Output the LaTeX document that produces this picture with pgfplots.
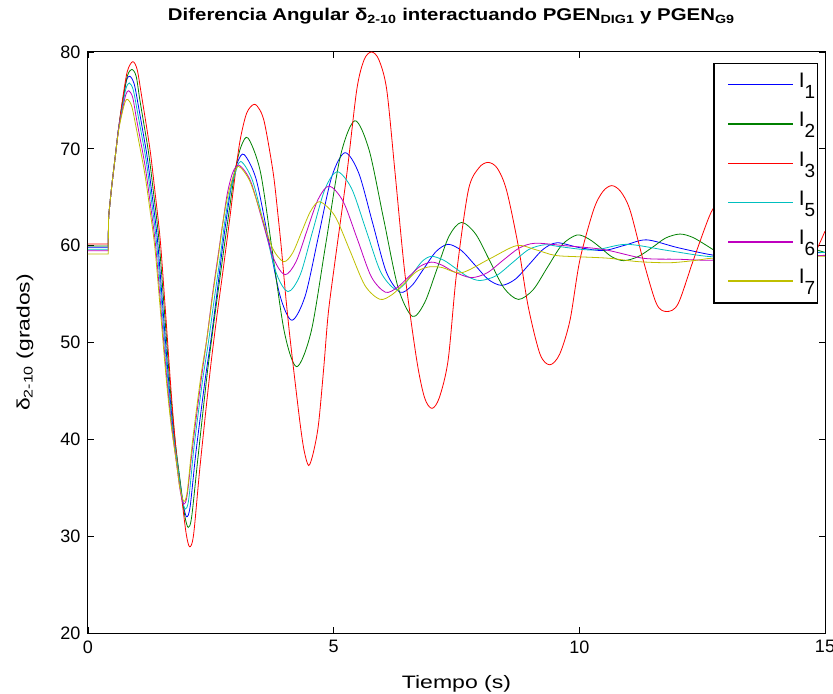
\documentclass[border=0pt]{standalone}
\usepackage{graphicx}
\usepackage{pgfplots}
\pgfplotsset{compat=1.18}
\usepackage{fontspec}
\setmainfont{Liberation Sans}
\definecolor{mblue}{rgb}{0,0,1}
\definecolor{mgreen}{rgb}{0,0.5,0}
\definecolor{mred}{rgb}{1,0,0}
\definecolor{mcyan}{rgb}{0,0.75,0.75}
\definecolor{mmag}{rgb}{0.75,0,0.75}
\definecolor{myel}{rgb}{0.75,0.75,0}
\newcommand{\lent}[1]{I\raisebox{-11bp}{\fontsize{19bp}{20bp}\selectfont #1}\hspace*{2bp}}
\pgfplotsset{
  limg/.style={legend image code/.code={\path (-14bp,0bp) (70bp,0bp); \draw[draw=#1, line width=1.4bp] (0bp,0.4bp) -- (65bp,0.4bp);}},
}
\begin{document}
\begin{tikzpicture}
\useasboundingbox (-88bp,-61bp) rectangle (745bp,633bp);
\begin{axis}[
  at={(0,0)}, anchor=south west,
  scale only axis, width=737bp, height=581bp,
  xmin=0, xmax=15, ymin=20, ymax=80,
  xtick={0,5,10,15}, ytick={20,30,40,50,60,70,80},
  tick align=inside, xtick pos=both, ytick pos=both,
  major tick length=6bp,
  tick style={black, line width=0.8bp},
  axis line style={black, line width=1bp},
  /pgf/number format/assume math mode=true,
  every tick label/.append style={font=\fontsize{18bp}{20bp}\selectfont},
  yticklabel style={xshift=-4bp},
  xticklabel style={yshift=-4bp},
  title={\scalebox{1.20}[1]{\bfseries Diferencia Angular δ\textsubscript{2-10} interactuando PGEN\textsubscript{DIG1} y PGEN\textsubscript{G9}}},
  title style={at={(axis description cs:0.493,1.0435)}, anchor=base, yshift=0pt, font=\fontsize{17bp}{19bp}\selectfont},
  xlabel={\scalebox{1.28}[1]{Tiempo (s)}},
  xlabel style={at={(axis description cs:0.5,-0.0947)}, anchor=base, font=\fontsize{18bp}{20bp}\selectfont},
  ylabel={\scalebox{1.27}[1]{δ\textsubscript{2-10} (grados)}},
  ylabel style={at={(axis description cs:-0.0855,0.5)}, anchor=center, font=\fontsize{18bp}{20bp}\selectfont},
  legend cell align=left,
  legend style={at={(0.9905,0.9816)}, anchor=north east, draw=black, line width=1.5bp,
    fill=white, inner xsep=0bp, inner ysep=7bp, row sep=10.1bp, column sep=0bp,
    font=\fontsize{21bp}{24bp}\selectfont,
    nodes={inner xsep=0bp, inner ysep=0bp, text height=17bp, text depth=12.2bp}},
  every axis plot/.append style={line width=0.8bp},
]
% flat initial segments
\addplot[draw=mblue, sharp plot, forget plot] coordinates {(0,59.83) (0.41,59.83) (0.42,63.0)};
\addplot[draw=mgreen, sharp plot, forget plot] coordinates {(0,59.97) (0.41,59.97) (0.42,63.0)};
\addplot[draw=mred, sharp plot, forget plot] coordinates {(0,60.17) (0.41,60.17) (0.42,63.0)};
\addplot[draw=mcyan, sharp plot, forget plot] coordinates {(0,59.62) (0.41,59.62) (0.42,63.0)};
\addplot[draw=mmag, sharp plot, forget plot] coordinates {(0,59.48) (0.41,59.48) (0.42,63.0)};
\addplot[draw=myel, sharp plot, forget plot] coordinates {(0,59.14) (0.41,59.14) (0.42,63.0)};
% I1 blue
\addplot[draw=mblue, smooth, limg=mblue] coordinates {
(0.42,63.0) (0.48,66.0) (0.55,69.0) (0.62,72.0) (0.70,74.6) (0.78,77.0) (0.85,77.5)
(0.94,76.7) (1.03,74.3) (1.20,69.3) (1.30,65.4) (1.41,60.8) (1.51,54.5) (1.64,46.1)
(1.74,40.7) (1.85,36.5) (1.94,33.2) (2.01,32.0) (2.08,33.1) (2.20,38.8) (2.38,46.0)
(2.50,50.2) (2.62,54.9) (2.74,59.9) (2.84,63.6) (2.93,66.5) (3.05,68.7) (3.18,69.4)
(3.42,66.9) (3.665,60.85) (3.91,54.8) (4.15,52.3) (4.42,54.8) (4.69,60.95) (4.96,67.1)
(5.23,69.6) (5.51,67.5) (5.79,62.4) (6.07,57.3) (6.35,55.2) (6.595,55.9) (6.84,57.67)
(7.085,59.4) (7.33,60.14) (7.60,59.5) (7.875,58.0) (8.15,56.5) (8.42,55.9) (8.70,56.55)
(8.985,58.1) (9.27,59.65) (9.55,60.3) (10.00,59.8) (10.49,59.5) (10.93,60.05) (11.37,60.6)
(12.00,59.8) (12.69,59.05) (13.10,58.9) (14.00,59.3) (15.00,59.3)};
\addlegendentry{\lent{1}}
% I2 green
\addplot[draw=mgreen, smooth, limg=mgreen] coordinates {
(0.42,63.0) (0.48,66.0) (0.55,69.0) (0.62,72.0) (0.70,74.8) (0.80,77.5) (0.89,78.2)
(0.98,77.5) (1.06,74.9) (1.23,69.7) (1.33,65.6) (1.44,60.8) (1.54,54.3) (1.67,45.5)
(1.77,40.0) (1.88,35.5) (1.97,32.1) (2.04,30.9) (2.11,32.0) (2.24,38.2) (2.42,46.5)
(2.55,51.6) (2.67,56.1) (2.80,60.9) (2.91,64.9) (3.00,67.95) (3.12,70.3) (3.26,71.1)
(3.51,67.6) (3.755,59.3) (4.00,51.0) (4.25,47.5) (4.545,51.2) (4.84,60.2) (5.135,69.2)
(5.43,72.9) (5.72,69.9) (6.015,62.8) (6.31,55.7) (6.60,52.7) (6.85,54.1) (7.10,57.55)
(7.35,61.0) (7.60,62.4) (7.89,61.2) (8.18,58.4) (8.47,55.6) (8.76,54.45) (9.06,55.45)
(9.355,57.8) (9.65,60.1) (9.95,61.1) (10.19,60.7) (10.43,59.8) (10.66,58.85) (10.90,58.45)
(11.19,58.85) (11.48,59.8) (11.76,60.8) (12.05,61.2) (12.31,60.85) (12.58,60.05) (12.84,59.25)
(13.10,58.9) (13.60,59.6) (14.15,60.3) (14.60,59.9) (15.00,59.3)};
\addlegendentry{\lent{2}}
% I3 red
\addplot[draw=mred, smooth, limg=mred] coordinates {
(0.42,63.0) (0.48,66.0) (0.55,69.0) (0.62,72.0) (0.70,75.0) (0.80,78.0) (0.91,79.0)
(1.00,78.2) (1.09,75.5) (1.26,70.0) (1.36,65.7) (1.47,60.6) (1.57,53.7) (1.70,44.4)
(1.80,38.5) (1.91,33.8) (2.00,30.2) (2.07,28.9) (2.15,30.2) (2.28,37.2) (2.48,46.8)
(2.62,52.6) (2.75,57.5) (2.89,63.0) (3.00,67.5) (3.10,71.0) (3.23,73.7) (3.38,74.6)
(3.50,74.0) (3.60,72.5) (3.77,67.5) (3.87,63.0) (3.94,59.5) (4.02,55.0) (4.10,51.0)
(4.19,47.0) (4.32,41.5) (4.40,38.8) (4.49,37.3) (4.58,38.5) (4.69,41.5) (4.80,47.5)
(4.89,53.0) (5.03,58.5) (5.27,67.5) (5.47,76.1) (5.62,79.2) (5.77,80.0) (5.92,79.2)
(6.08,76.1) (6.25,67.5) (6.45,57.1) (6.69,48.2) (6.85,44.3) (7.00,43.2) (7.15,44.3)
(7.33,48.2) (7.50,57.1) (7.74,65.7) (7.95,68.0) (8.14,68.6) (8.33,68.0) (8.52,65.7)
(8.76,59.9) (8.96,53.7) (9.20,48.8) (9.40,47.7) (9.60,48.8) (9.81,52.3) (10.01,58.5)
(10.29,63.7) (10.48,65.6) (10.66,66.2) (10.84,65.6) (11.03,63.7) (11.30,58.5) (11.57,54.0)
(11.78,53.2) (12.01,54.0) (12.32,58.5) (12.66,63.2) (12.85,64.6) (13.05,65.0) (13.30,64.0)
(13.60,60.5) (13.90,57.0) (14.20,55.8) (14.50,57.0) (14.80,59.3) (15.00,61.5)};
\addlegendentry{\lent{3}}
% I5 cyan
\addplot[draw=mcyan, smooth, limg=mcyan] coordinates {
(0.42,63.0) (0.48,66.0) (0.55,69.0) (0.62,72.0) (0.70,74.3) (0.77,76.2) (0.84,76.8)
(0.92,76.1) (1.01,73.7) (1.18,68.9) (1.28,65.1) (1.39,60.6) (1.49,54.6) (1.62,46.4)
(1.72,41.2) (1.83,37.1) (1.91,34.0) (1.98,32.8) (2.05,33.8) (2.16,39.3) (2.33,46.0)
(2.45,50.0) (2.57,54.5) (2.69,58.8) (2.78,62.35) (2.87,65.1) (2.98,67.2) (3.11,68.7)
(3.35,66.7) (3.59,62.0) (3.83,57.2) (4.07,55.25) (4.32,57.0) (4.57,61.45) (4.82,65.8)
(5.07,67.64) (5.365,65.9) (5.66,61.6) (5.955,57.3) (6.25,55.5) (6.435,56.0) (6.62,57.2)
(6.805,58.4) (6.99,58.9) (7.24,58.5) (7.485,57.65) (7.73,56.8) (7.98,56.4) (8.31,56.9)
(8.64,58.25) (8.97,59.6) (9.30,60.1) (9.60,59.9) (10.29,59.55) (10.96,60.14) (11.80,59.5)
(12.69,58.86) (13.50,59.0) (15.00,59.3)};
\addlegendentry{\lent{5}}
% I6 magenta
\addplot[draw=mmag, smooth, limg=mmag] coordinates {
(0.42,63.0) (0.48,66.0) (0.55,69.0) (0.62,72.0) (0.70,74.0) (0.77,75.6) (0.83,76.0)
(0.91,75.3) (0.99,73.0) (1.16,68.3) (1.26,64.65) (1.37,60.3) (1.47,54.4) (1.60,46.5)
(1.70,41.5) (1.81,37.2) (1.88,34.6) (1.95,33.3) (2.02,34.3) (2.14,39.7) (2.31,46.4)
(2.43,50.8) (2.54,55.2) (2.66,59.4) (2.76,62.9) (2.84,65.5) (2.95,67.6) (3.08,68.3)
(3.31,66.65) (3.545,62.65) (3.78,58.65) (4.01,57.0) (4.235,58.35) (4.46,61.6) (4.685,64.8)
(4.91,66.16) (5.195,64.55) (5.48,60.7) (5.765,56.8) (6.05,55.2) (6.285,55.65) (6.52,56.75)
(6.755,57.85) (6.99,58.3) (7.20,58.0) (7.45,57.3) (7.80,56.7) (8.125,57.2) (8.45,58.5)
(8.775,59.75) (9.10,60.25) (9.70,60.0) (10.50,59.6) (11.30,58.7) (12.00,58.6) (12.69,58.5)
(13.50,58.8) (15.00,59.0)};
\addlegendentry{\lent{6}}
% I7 yellow
\addplot[draw=myel, smooth, limg=myel] coordinates {
(0.42,63.0) (0.48,66.0) (0.55,69.0) (0.62,71.8) (0.70,73.8) (0.76,74.9) (0.81,75.1)
(0.89,74.4) (0.98,72.2) (1.15,67.6) (1.25,64.1) (1.36,59.85) (1.46,54.1) (1.59,46.4)
(1.69,41.55) (1.80,37.6) (1.87,35.0) (1.95,33.6) (2.02,34.6) (2.13,39.9) (2.30,46.6)
(2.42,50.4) (2.53,54.6) (2.65,58.8) (2.74,62.2) (2.83,64.8) (2.94,66.9) (3.06,68.2)
(3.29,66.7) (3.52,63.3) (3.75,59.8) (3.98,58.35) (4.165,59.25) (4.35,61.45) (4.535,63.6)
(4.72,64.54) (5.025,63.06) (5.33,59.5) (5.635,55.9) (5.94,54.46) (6.19,54.95) (6.435,56.1)
(6.68,57.3) (6.93,57.8) (7.20,57.75) (7.60,57.2) (8.16,58.6) (8.72,60.0) (9.10,59.6)
(9.50,59.0) (10.00,58.85) (10.60,58.7) (11.20,58.35) (11.85,58.24) (12.40,58.5) (12.69,58.7)
(13.50,58.9) (15.00,58.9)};
\addlegendentry{\lent{7}}
\end{axis}
\end{tikzpicture}
\end{document}
